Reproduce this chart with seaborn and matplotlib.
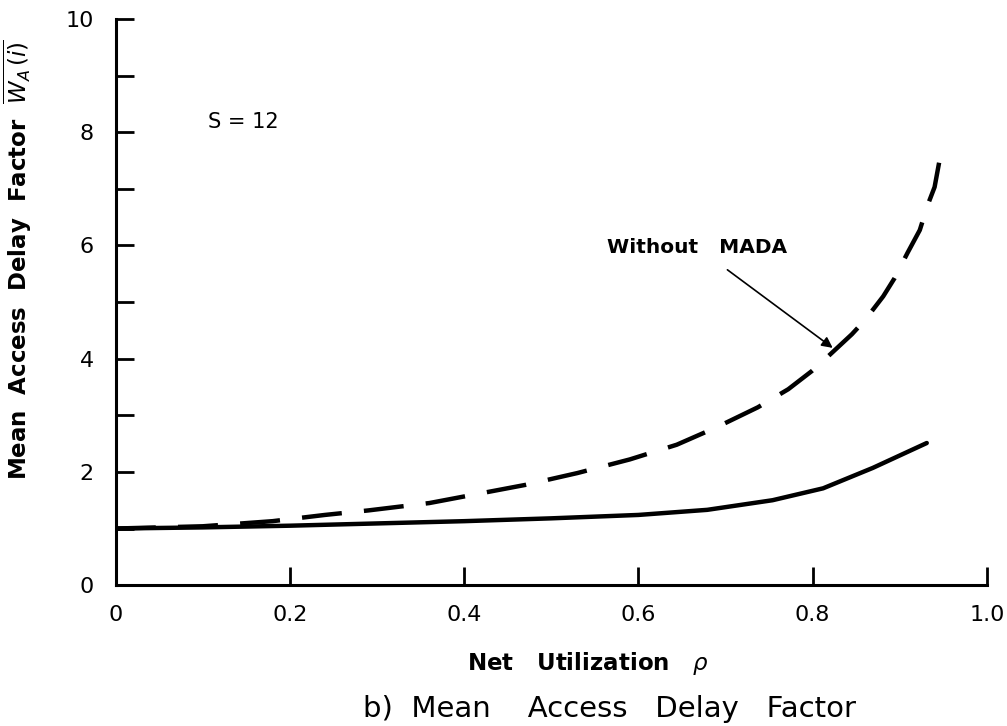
import pandas as pd
import matplotlib
matplotlib.use("Agg")
import matplotlib.pyplot as plt
import seaborn as sns

# values
rho_with = [0.0, 0.1, 0.2, 0.3, 0.4, 0.5, 0.6, 0.679, 0.754, 0.812, 0.869, 0.931]
delay_with = [1.0, 1.02, 1.05, 1.09, 1.13, 1.18, 1.24, 1.33, 1.50, 1.71, 2.07, 2.51]

rho_without = [0.0, 0.1, 0.18, 0.24, 0.29, 0.36, 0.47, 0.53, 0.59, 0.644, 0.69, 0.737,
               0.772, 0.799, 0.817, 0.845, 0.860, 0.881, 0.894, 0.909, 0.923,
               0.932, 0.940, 0.946]
delay_without = [1.0, 1.04, 1.13, 1.24, 1.32, 1.45, 1.77, 1.98, 2.22, 2.48, 2.79, 3.14,
                 3.46, 3.78, 4.03, 4.43, 4.68, 5.10, 5.42, 5.87, 6.27,
                 6.71, 7.03, 7.53]

x_ticks = [0, 0.2, 0.4, 0.6, 0.8, 1.0]
x_tick_labels = ["0", "0.2", "0.4", "0.6", "0.8", "1.0"]
y_ticks = [0, 2, 4, 6, 8, 10]

sns.set_theme(style="ticks")
plt.rcParams["font.family"] = ["DejaVu Sans"]
plt.rcParams["text.color"] = "black"
plt.rcParams["axes.labelcolor"] = "black"
plt.rcParams["xtick.color"] = "black"
plt.rcParams["ytick.color"] = "black"

fig = plt.figure(figsize=(10.07, 7.26), dpi=100)
ax = fig.add_axes([0.115, 0.194, 0.865, 0.780])

df_with = pd.DataFrame({"rho": rho_with, "delay": delay_with})
df_without = pd.DataFrame({"rho": rho_without, "delay": delay_without})

sns.lineplot(data=df_with, x="rho", y="delay", ax=ax, color="black", lw=3.2)
sns.lineplot(data=df_without, x="rho", y="delay", ax=ax, color="black", lw=3.2,
             linestyle=(0, (9, 5)))

ax.set_xlim(0, 1.0)
ax.set_ylim(0, 10)
ax.set_xticks(x_ticks)
ax.set_xticklabels(x_tick_labels)
ax.set_yticks(y_ticks)
ax.set_yticks([1, 3, 5, 7, 9], minor=True)
ax.tick_params(axis="both", which="both", direction="in", length=13, width=2,
               labelsize=16, color="black", labelcolor="black")
ax.tick_params(axis="x", pad=14)
ax.tick_params(axis="y", pad=16)
sns.despine(ax=ax)
for side in ["left", "bottom"]:
    ax.spines[side].set_linewidth(2.2)
    ax.spines[side].set_color("black")

ax.set_xlabel(r"Net   Utilization   $\rho$", fontsize=16.5, fontweight="bold")
ax.xaxis.set_label_coords(0.542, -0.115)
ax.set_ylabel(r"Mean  Access  Delay  Factor  $\overline{W_A\,(i)}$", fontsize=16.5,
              fontweight="bold")
ax.yaxis.set_label_coords(-0.094, 0.574)

ax.text(0.146, 8.18, "S = 12", fontsize=15, ha="center", va="center")

ax.annotate("Without   MADA", xy=(0.823, 4.19), xytext=(0.667, 5.97),
            fontsize=14.5, fontweight="bold", ha="center", va="center",
            arrowprops=dict(arrowstyle="-|>", color="black", lw=1.2,
                            shrinkA=12, shrinkB=0, mutation_scale=16))

fig.text(0.605, 0.004, "b)  Mean    Access   Delay   Factor", fontsize=21,
         ha="center", va="bottom")

fig.savefig("out.png", dpi=100, facecolor="white")
